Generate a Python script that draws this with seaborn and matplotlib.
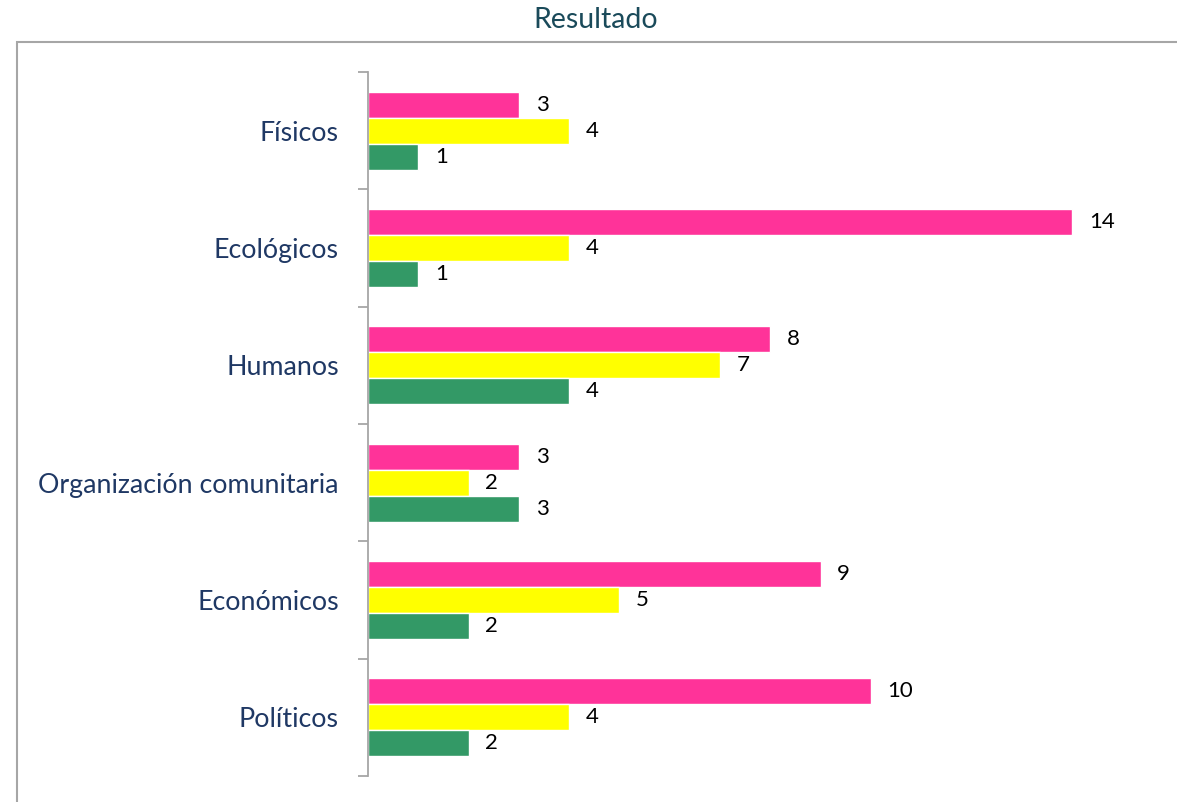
import matplotlib
matplotlib.use("Agg")
import matplotlib.pyplot as plt
from matplotlib.patches import Rectangle
from matplotlib.ticker import FixedLocator
import seaborn as sns
import pandas as pd

categories = ["Físicos", "Ecológicos", "Humanos", "Organización comunitaria", "Económicos", "Políticos"]
series_names = ["Serie 1", "Serie 2", "Serie 3"]
serie1 = [3, 14, 8, 3, 9, 10]
serie2 = [4, 4, 7, 2, 5, 4]
serie3 = [1, 1, 4, 3, 2, 2]
colors = ["#FF3399", "#FFFF00", "#339966"]

rows = []
for name, vals in zip(series_names, [serie1, serie2, serie3]):
    for c, v in zip(categories, vals):
        rows.append({"Categoria": c, "Serie": name, "Valor": v})
df = pd.DataFrame(rows)

sns.set_style("white")
plt.rcParams["font.family"] = ["Lato", "DejaVu Sans"]

W, H = 1177, 802
fig = plt.figure(figsize=(W / 100, H / 100), dpi=100)
# outer frame
fig.patches.append(Rectangle((17 / W, -0.1), 1.2, 1 - 42 / H + 0.1, transform=fig.transFigure,
                             fill=False, edgecolor="#A6A6A6", linewidth=1.5))
left = 368 / W
bottom = 1 - 776 / H
top = 1 - 72 / H
ax = fig.add_axes([left, bottom, (16 * 50.29) / W, top - bottom])

sns.barplot(data=df, y="Categoria", x="Valor", hue="Serie", order=categories,
            hue_order=series_names, palette=colors, orient="h", width=0.667,
            saturation=1, ax=ax, legend=False)

ax.set_xlim(0, 16)
ax.set_ylim(5.5, -0.5)
for c in ax.containers:
    ax.bar_label(c, padding=12, fontsize=16, color="black")

for s in ["top", "right", "bottom"]:
    ax.spines[s].set_visible(False)
ax.spines["left"].set_color("#A6A6A6")
ax.spines["left"].set_linewidth(1.3)
ax.set_xticks([])
ax.yaxis.set_minor_locator(FixedLocator([i - 0.5 for i in range(len(categories) + 1)]))
ax.tick_params(axis="y", which="major", left=True, length=0, pad=21, labelsize=19.3, labelcolor="#1F3864")
ax.tick_params(axis="y", which="minor", left=True, length=7, width=1.3, color="#A6A6A6", direction="out")
ax.set_xlabel("")
ax.set_ylabel("")

fig.text(596 / W, 1 - 20 / H, "Resultado", ha="center", va="center", fontsize=20.5, color="#1A4A5A")

fig.savefig("out.png", dpi=100)
